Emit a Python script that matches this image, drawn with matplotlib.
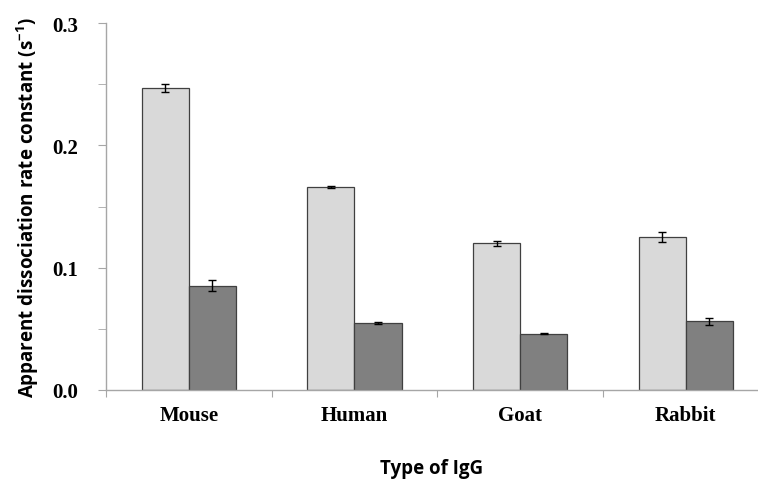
import matplotlib.pyplot as plt
import numpy as np

species = ["Mouse", "Human", "Goat", "Rabbit"]
light_vals = [0.247, 0.166, 0.120, 0.125]
light_err = [0.003, 0.001, 0.002, 0.004]
dark_vals = [0.085, 0.0545, 0.046, 0.056]
dark_err = [0.0045, 0.0006, 0.0005, 0.003]
y_ticks = [0.0, 0.1, 0.2, 0.3]

fig = plt.figure(figsize=(7.58, 4.85), dpi=100)
ax = fig.add_axes([0.1398, 0.1944, 0.860, 0.7555])

x = np.arange(len(species)) + 0.5
w = 0.284
ax.bar(x - w / 2, light_vals, w, yerr=light_err, color="#d9d9d9",
       edgecolor="#404040", linewidth=0.9,
       error_kw=dict(ecolor="black", elinewidth=1, capsize=3, capthick=1))
ax.bar(x + w / 2, dark_vals, w, yerr=dark_err, color="#808080",
       edgecolor="#404040", linewidth=0.9,
       error_kw=dict(ecolor="black", elinewidth=1, capsize=3, capthick=1))

ax.set_xlim(0, 3.935)
ax.set_ylim(0, 0.3)

for s in ["top", "right"]:
    ax.spines[s].set_visible(False)
for s in ["left", "bottom"]:
    ax.spines[s].set_color("#a6a6a6")
    ax.spines[s].set_linewidth(1)

serif_bold = dict(family="Liberation Serif", weight="bold", size=15)

# category boundaries get tick marks, labels sit at the group centers
ax.set_xticks(np.arange(len(species)))
ax.set_xticklabels([])
ax.set_xticks(x, minor=True)
ax.set_xticklabels(species, minor=True, **serif_bold)
ax.tick_params(axis="x", which="major", direction="out", length=5,
               color="#a6a6a6")
ax.tick_params(axis="x", which="minor", length=0, pad=11)

ax.set_yticks(y_ticks)
ax.set_yticklabels([f"{v:.1f}" for v in y_ticks], **serif_bold)
ax.set_yticks(np.arange(0.05, 0.3, 0.1), minor=True)
ax.tick_params(axis="y", which="both", direction="out", length=6,
               color="#a6a6a6", pad=14)

sans_bold = dict(family="Open Sans", weight="bold", fontsize=13.5)
ax.set_ylabel("Apparent dissociation rate constant (s$^{\\mathregular{-1}}$)",
              labelpad=8, **sans_bold)
ax.set_xlabel("Type of IgG", labelpad=24, **sans_bold)

fig.savefig("out.png", dpi=100)
